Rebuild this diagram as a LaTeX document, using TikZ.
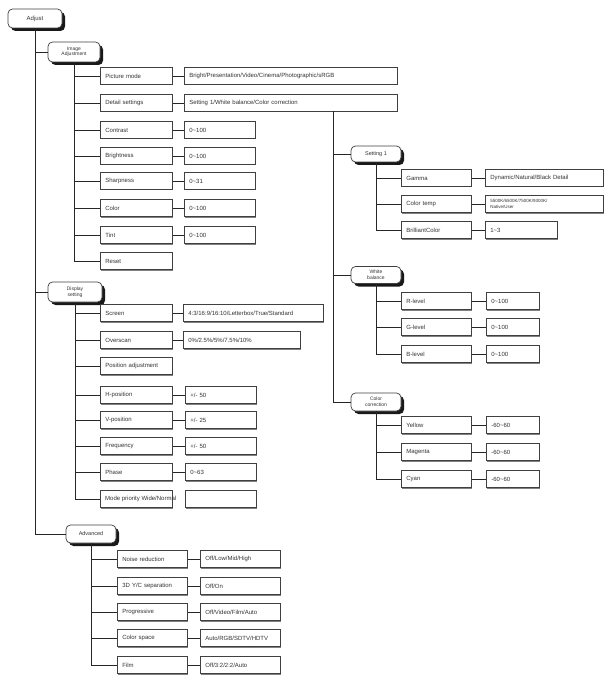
\documentclass[tikz,border=0pt]{standalone}
\usepackage{fontspec}
\setmainfont{Liberation Sans}
\usetikzlibrary{shadows}
\def\rng{\textasciitilde}
\begin{document}
\begin{tikzpicture}[x=1pt,y=-1pt,
 font=\fontsize{6}{7}\selectfont, text=black!80,
 conn/.style={draw=black!85, line width=0.8pt},
 cat/.style={draw=black!75, line width=0.7pt, fill=white, rounded corners=4.5pt, inner sep=1pt, align=center,
   font=\fontsize{5}{5.6}\selectfont,
   drop shadow={shadow xshift=3pt, shadow yshift=-3pt, fill=black!90, opacity=1}},
 box/.style={draw=black!75, line width=0.8pt, fill=white, minimum height=17pt, inner xsep=5pt, inner ysep=0pt,
   align=left, text width=#1, anchor=west,
   drop shadow={shadow xshift=1pt, shadow yshift=-1pt, fill=black!50, opacity=1}},
]
\useasboundingbox (0,0) rectangle (606,676);

% category nodes
\node[cat, minimum width=54pt, minimum height=19pt, font=\fontsize{6}{7}\selectfont] (adj) at (35,18.5) {Adjust};
\node[cat, minimum width=52pt, minimum height=20pt] (ia) at (74,52) {Image\\Adjustment};
\node[cat, minimum width=54pt, minimum height=20pt] (ds) at (75,292) {Display\\setting};
\node[cat, minimum width=50pt, minimum height=18pt, font=\fontsize{5.5}{6}\selectfont] (adv) at (91,534) {Advanced};
\node[cat, minimum width=50pt, minimum height=16pt, font=\fontsize{5.5}{6}\selectfont] (s1) at (376,154) {Setting 1};
\node[cat, minimum width=50pt, minimum height=17pt] (wb) at (376,275) {White\\balance};
\node[cat, minimum width=50pt, minimum height=18pt] (cc) at (376,402) {Color\\correction};

% Image Adjustment
\node[box=62pt] (pm) at (100,76) {Picture mode};
\node[box=203pt] (pmv) at (184,76) {Bright/Presentation/Video/Cinema/Photographic/sRGB};
\node[box=62pt] (dset) at (100,103) {Detail settings};
\node[box=203pt] (dsv) at (184,103) {Setting 1/White balance/Color correction};
\node[box=62pt] (con) at (100,130) {Contrast};
\node[box=61pt] (conv) at (184,130) {0\rng100};
\node[box=62pt] (bri) at (100,156) {Brightness};
\node[box=61pt] (briv) at (184,156) {0\rng100};
\node[box=62pt] (sha) at (100,181) {Sharpness};
\node[box=61pt] (shav) at (184,181) {0\rng31};
\node[box=62pt] (col) at (100,208) {Color};
\node[box=61pt] (colv) at (184,208) {0\rng100};
\node[box=62pt] (tin) at (100,235) {Tint};
\node[box=61pt] (tinv) at (184,235) {0\rng100};
\node[box=62pt] (res) at (100,261) {Reset};

% Display setting
\node[box=62pt] (scr) at (100,313) {Screen};
\node[box=130pt] (scrv) at (183,313) {4:3/16:9/16:10/Letterbox/True/Standard};
\node[box=62pt] (ovs) at (100,340) {Overscan};
\node[box=107pt] (ovsv) at (183,340) {0\%/2.5\%/5\%/7.5\%/10\%};
\node[box=62pt] (pos) at (100,366) {Position adjustment};
\node[box=62pt] (hp) at (100,395) {H-position};
\node[box=61pt] (hpv) at (185,395) {+/- 50};
\node[box=62pt] (vp) at (100,420) {V-position};
\node[box=61pt] (vpv) at (185,420) {+/- 25};
\node[box=62pt] (frq) at (100,446) {Frequency};
\node[box=61pt] (frqv) at (185,446) {+/- 50};
\node[box=62pt] (pha) at (100,472) {Phase};
\node[box=61pt] (phav) at (185,472) {0\rng63};
\node[box=62pt] (mp) at (100,499) {};
\node[box=61pt] (mpv) at (185,499) {};
\node[anchor=west, inner sep=0pt] (mpt) at (105,499) {Mode priority Wide/Normal};

% Advanced
\node[box=60pt] (nr) at (117,559) {Noise reduction};
\node[box=70pt] (nrv) at (200,559) {Off/Low/Mid/High};
\node[box=60pt] (yc) at (117,586) {3D Y/C separation};
\node[box=70pt] (ycv) at (200,586) {Off/On};
\node[box=60pt] (prg) at (117,612) {Progressive};
\node[box=70pt] (prgv) at (200,612) {Off/Video/Film/Auto};
\node[box=60pt] (csp) at (117,638) {Color space};
\node[box=70pt] (cspv) at (200,638) {Auto/RGB/SDTV/HDTV};
\node[box=60pt] (flm) at (117,665) {Film};
\node[box=70pt] (flmv) at (200,665) {Off/3:2/2:2/Auto};

% Setting 1
\node[box=60pt] (gam) at (401,178) {Gamma};
\node[box=108pt] (gamv) at (485,178) {Dynamic/Natural/Black Detail};
\node[box=60pt] (ctp) at (401,204) {Color temp};
\node[box=108pt, font=\fontsize{4.5}{5.5}\selectfont] (ctpv) at (485,204) {5500K/6500K/7500K/9300K/\\Native/User};
\node[box=60pt] (bcl) at (401,230) {BrilliantColor};
\node[box=62pt] (bclv) at (485,230) {1\rng3};

% White balance
\node[box=60pt] (rl) at (401,301) {R-level};
\node[box=43pt] (rlv) at (486,301) {0\rng100};
\node[box=60pt] (gl) at (401,327) {G-level};
\node[box=43pt] (glv) at (486,327) {0\rng100};
\node[box=60pt] (bl) at (401,354) {B-level};
\node[box=43pt] (blv) at (486,354) {0\rng100};

% Color correction
\node[box=60pt] (yel) at (401,425) {Yellow};
\node[box=43pt] (yelv) at (486,425) {-60\rng60};
\node[box=60pt] (mag) at (401,452) {Magenta};
\node[box=43pt] (magv) at (486,452) {-60\rng60};
\node[box=60pt] (cyn) at (401,479) {Cyan};
\node[box=43pt] (cynv) at (486,479) {-60\rng60};

% connectors: main trunk
\draw[conn] (adj.south) |- (adv.west);
\foreach \n in {ia,ds} \draw[conn] (adj.south |- \n.west) -- (\n.west);
% image adjustment group
\draw[conn] (ia.south) |- (res.west);
\foreach \n in {pm,dset,con,bri,sha,col,tin} \draw[conn] (ia.south |- \n.west) -- (\n.west);
\foreach \a/\b in {pm/pmv,dset/dsv,con/conv,bri/briv,sha/shav,col/colv,tin/tinv} \draw[conn] (\a.east) -- (\b.west);
% display setting group
\draw[conn] (ds.south) |- (mp.west);
\foreach \n in {scr,ovs,pos,hp,vp,frq,pha} \draw[conn] (ds.south |- \n.west) -- (\n.west);
\foreach \a/\b in {scr/scrv,ovs/ovsv,hp/hpv,vp/vpv,frq/frqv,pha/phav} \draw[conn] (\a.east) -- (\b.west);
% advanced group
\draw[conn] (adv.south) |- (flm.west);
\foreach \n in {nr,yc,prg,csp} \draw[conn] (adv.south |- \n.west) -- (\n.west);
\foreach \a/\b in {nr/nrv,yc/ycv,prg/prgv,csp/cspv,flm/flmv} \draw[conn] (\a.east) -- (\b.west);
% detail settings tree
\coordinate (tap) at (333,111.5);
\draw[conn] (tap) |- (cc.west);
\foreach \n in {s1,wb} \draw[conn] (tap |- \n.west) -- (\n.west);
\draw[conn] (s1.south) |- (bcl.west);
\foreach \n in {gam,ctp} \draw[conn] (s1.south |- \n.west) -- (\n.west);
\draw[conn] (wb.south) |- (bl.west);
\foreach \n in {rl,gl} \draw[conn] (wb.south |- \n.west) -- (\n.west);
\draw[conn] (cc.south) |- (cyn.west);
\foreach \n in {yel,mag} \draw[conn] (cc.south |- \n.west) -- (\n.west);
\foreach \a/\b in {gam/gamv,ctp/ctpv,bcl/bclv,rl/rlv,gl/glv,bl/blv,yel/yelv,mag/magv,cyn/cynv} \draw[conn] (\a.east) -- (\b.west);
\end{tikzpicture}
\end{document}
